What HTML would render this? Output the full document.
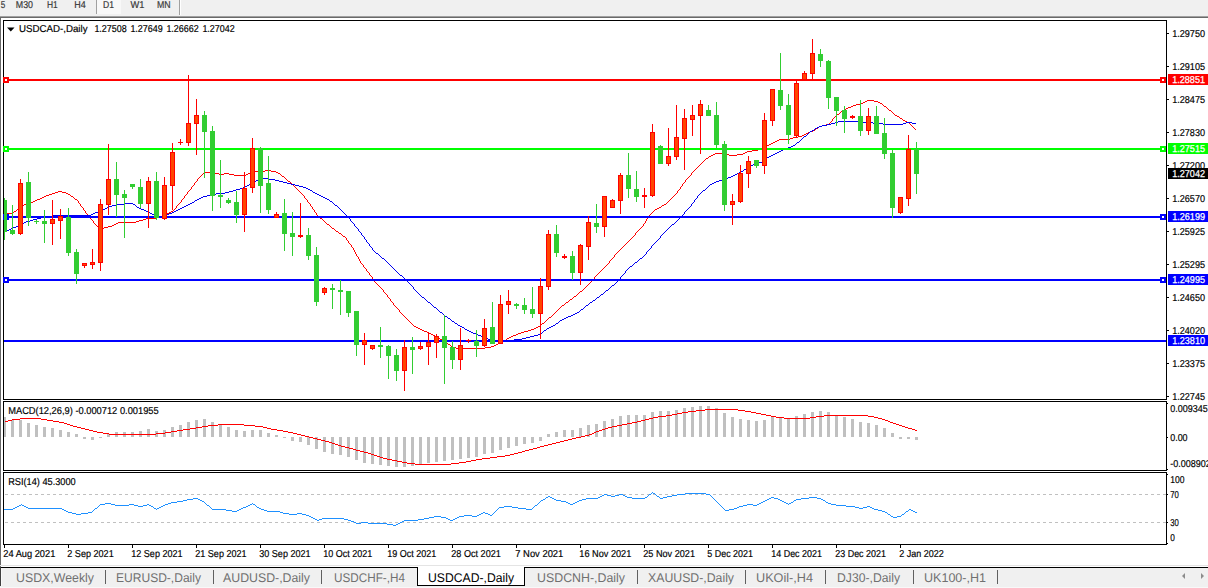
<!DOCTYPE html><html><head><meta charset="utf-8"><title>USDCAD-,Daily</title>
<style>html,body{margin:0;padding:0;background:#fff;}body{width:1208px;height:588px;overflow:hidden;}svg{display:block}text{font-family:"Liberation Sans","DejaVu Sans",sans-serif;text-rendering:geometricPrecision;}.b{stroke:#000;stroke-width:.18px}.w{stroke:#fff;stroke-width:.25px}.t{stroke:#383838;stroke-width:.2px}</style></head><body>
<svg width="1208" height="588" viewBox="0 0 1208 588">
<rect width="1208" height="588" fill="#fff"/>
<g shape-rendering="crispEdges">
<rect x="0" y="0" width="1208" height="16" fill="#f0f0f0"/>
<rect x="0" y="16" width="1208" height="1" fill="#a0a0a0"/>
<rect x="0" y="17" width="1208" height="1" fill="#696969"/>
<rect x="0" y="17" width="1" height="550" fill="#696969"/>
<rect x="97" y="0" width="24" height="14" fill="#f8f8f8"/>
<rect x="96" y="0" width="1" height="14" fill="#a0a0a0"/>
<rect x="179" y="0" width="1" height="15" fill="#a0a0a0"/>
<rect x="180" y="0" width="1" height="15" fill="#ffffff"/>
</g>
<text x="0.7" y="8" class="t" font-size="10" fill="#383838" textLength="4.5" lengthAdjust="spacingAndGlyphs">5</text>
<text x="15.8" y="8" class="t" font-size="10" fill="#383838" textLength="17.2" lengthAdjust="spacingAndGlyphs">M30</text>
<text x="47" y="8" class="t" font-size="10" fill="#383838" textLength="10.8" lengthAdjust="spacingAndGlyphs">H1</text>
<text x="74.2" y="8" class="t" font-size="10" fill="#383838" textLength="11.5" lengthAdjust="spacingAndGlyphs">H4</text>
<text x="103" y="8" class="t" font-size="10" fill="#383838" textLength="11.0" lengthAdjust="spacingAndGlyphs">D1</text>
<text x="130.4" y="8" class="t" font-size="10" fill="#383838" textLength="13.9" lengthAdjust="spacingAndGlyphs">W1</text>
<text x="157" y="8" class="t" font-size="10" fill="#383838" textLength="13.6" lengthAdjust="spacingAndGlyphs">MN</text>
<g shape-rendering="crispEdges" fill="#000">
<rect x="3" y="20" width="1164" height="1"/>
<rect x="3" y="399" width="1164" height="1"/>
<rect x="3" y="20" width="1" height="380"/>
<rect x="1166" y="20" width="1" height="380"/>
<rect x="3" y="401" width="1164" height="1"/>
<rect x="3" y="470" width="1164" height="1"/>
<rect x="3" y="401" width="1" height="70"/>
<rect x="1166" y="401" width="1" height="70"/>
<rect x="3" y="472" width="1164" height="1"/>
<rect x="3" y="544" width="1164" height="1"/>
<rect x="3" y="472" width="1" height="73"/>
<rect x="1166" y="472" width="1" height="73"/>
</g>
<path d="M867 100h7v1h-7zM865 101h2v1h-2zM874 101h4v1h-4zM863 102h2v1h-2zM878 102h2v1h-2zM860 103h3v1h-3zM880 103h2v1h-2zM856 104h4v1h-4zM882 104h1v1h-1zM853 105h3v1h-3zM883 105h1v1h-1zM851 106h2v1h-2zM884 106h2v1h-2zM848 107h3v1h-3zM886 107h1v1h-1zM846 108h2v1h-2zM887 108h1v1h-1zM844 109h2v1h-2zM888 109h1v1h-1zM843 110h1v1h-1zM889 110h2v1h-2zM841 111h2v1h-2zM891 111h1v1h-1zM840 112h1v1h-1zM892 112h1v1h-1zM839 113h1v1h-1zM893 113h1v1h-1zM837 114h2v1h-2zM894 114h1v1h-1zM836 115h1v1h-1zM895 115h2v1h-2zM835 116h1v1h-1zM897 116h2v1h-2zM834 117h1v1h-1zM899 117h1v1h-1zM833 118h1v1h-1zM900 118h2v1h-2zM832 119h1v1h-1zM902 119h1v1h-1zM832 120h1v1h-1zM903 120h2v1h-2zM831 121h1v1h-1zM905 121h2v1h-2zM830 122h1v1h-1zM907 122h2v1h-2zM829 123h1v1h-1zM909 123h1v1h-1zM826 124h3v1h-3zM910 124h1v1h-1zM822 125h4v1h-4zM911 125h1v1h-1zM819 126h3v1h-3zM912 126h1v1h-1zM818 127h1v1h-1zM913 127h1v1h-1zM816 128h2v1h-2zM914 128h1v1h-1zM815 129h1v1h-1zM915 129h1v1h-1zM813 130h2v1h-2zM810 131h3v1h-3zM808 132h2v1h-2zM806 133h2v1h-2zM804 134h2v1h-2zM802 135h2v1h-2zM798 136h4v1h-4zM793 137h5v1h-5zM790 138h3v1h-3zM779 139h11v1h-11zM777 140h2v1h-2zM775 141h2v1h-2zM773 142h2v1h-2zM771 143h2v1h-2zM769 144h2v1h-2zM767 145h2v1h-2zM766 146h1v1h-1zM764 147h2v1h-2zM762 148h2v1h-2zM758 149h4v1h-4zM752 150h6v1h-6zM747 151h5v1h-5zM745 152h2v1h-2zM715 153h9v1h-9zM743 153h2v1h-2zM713 154h2v1h-2zM724 154h5v1h-5zM737 154h6v1h-6zM711 155h2v1h-2zM729 155h8v1h-8zM709 156h2v1h-2zM708 157h1v1h-1zM706 158h2v1h-2zM705 159h1v1h-1zM704 160h1v1h-1zM703 161h1v1h-1zM702 162h1v1h-1zM701 163h1v1h-1zM700 164h1v1h-1zM699 165h1v1h-1zM698 166h1v1h-1zM697 167h1v1h-1zM696 168h1v1h-1zM695 169h1v1h-1zM265 170h6v1h-6zM694 170h1v1h-1zM252 171h13v1h-13zM271 171h5v1h-5zM693 171h1v1h-1zM204 172h11v1h-11zM250 172h2v1h-2zM276 172h2v1h-2zM692 172h1v1h-1zM203 173h1v1h-1zM215 173h4v1h-4zM224 173h5v1h-5zM248 173h2v1h-2zM278 173h2v1h-2zM691 173h1v1h-1zM202 174h1v1h-1zM219 174h5v1h-5zM229 174h5v1h-5zM246 174h2v1h-2zM280 174h1v1h-1zM691 174h1v1h-1zM201 175h1v1h-1zM234 175h12v1h-12zM281 175h1v1h-1zM690 175h1v1h-1zM200 176h1v1h-1zM282 176h2v1h-2zM689 176h1v1h-1zM199 177h1v1h-1zM284 177h1v1h-1zM688 177h1v1h-1zM198 178h1v1h-1zM285 178h1v1h-1zM687 178h1v1h-1zM197 179h1v1h-1zM286 179h1v1h-1zM686 179h1v1h-1zM197 180h1v1h-1zM287 180h1v1h-1zM685 180h1v1h-1zM196 181h1v1h-1zM288 181h2v1h-2zM685 181h1v1h-1zM195 182h1v1h-1zM290 182h1v1h-1zM684 182h1v1h-1zM194 183h1v1h-1zM291 183h1v1h-1zM683 183h1v1h-1zM194 184h1v1h-1zM292 184h1v1h-1zM682 184h1v1h-1zM193 185h1v1h-1zM293 185h1v1h-1zM682 185h1v1h-1zM192 186h1v1h-1zM294 186h1v1h-1zM681 186h1v1h-1zM191 187h1v1h-1zM295 187h1v1h-1zM680 187h1v1h-1zM191 188h1v1h-1zM296 188h1v1h-1zM680 188h1v1h-1zM190 189h1v1h-1zM297 189h1v1h-1zM679 189h1v1h-1zM189 190h1v1h-1zM298 190h1v1h-1zM678 190h1v1h-1zM58 191h4v1h-4zM188 191h1v1h-1zM299 191h1v1h-1zM677 191h1v1h-1zM55 192h3v1h-3zM62 192h4v1h-4zM187 192h1v1h-1zM300 192h1v1h-1zM677 192h1v1h-1zM52 193h3v1h-3zM66 193h2v1h-2zM187 193h1v1h-1zM301 193h1v1h-1zM676 193h1v1h-1zM49 194h3v1h-3zM68 194h2v1h-2zM186 194h1v1h-1zM302 194h1v1h-1zM675 194h1v1h-1zM46 195h3v1h-3zM70 195h1v1h-1zM185 195h1v1h-1zM303 195h1v1h-1zM674 195h1v1h-1zM44 196h2v1h-2zM71 196h2v1h-2zM184 196h1v1h-1zM304 196h1v1h-1zM673 196h1v1h-1zM42 197h2v1h-2zM73 197h1v1h-1zM184 197h1v1h-1zM304 197h1v1h-1zM672 197h1v1h-1zM40 198h2v1h-2zM74 198h1v1h-1zM183 198h1v1h-1zM305 198h1v1h-1zM671 198h1v1h-1zM37 199h3v1h-3zM75 199h2v1h-2zM182 199h1v1h-1zM306 199h1v1h-1zM670 199h1v1h-1zM35 200h2v1h-2zM77 200h1v1h-1zM181 200h1v1h-1zM307 200h1v1h-1zM669 200h1v1h-1zM33 201h2v1h-2zM78 201h1v1h-1zM181 201h1v1h-1zM307 201h1v1h-1zM668 201h1v1h-1zM30 202h3v1h-3zM78 202h1v1h-1zM180 202h1v1h-1zM308 202h1v1h-1zM667 202h1v1h-1zM27 203h3v1h-3zM79 203h1v1h-1zM179 203h1v1h-1zM309 203h1v1h-1zM666 203h1v1h-1zM24 204h3v1h-3zM80 204h1v1h-1zM178 204h1v1h-1zM310 204h1v1h-1zM664 204h2v1h-2zM22 205h2v1h-2zM80 205h1v1h-1zM177 205h1v1h-1zM310 205h1v1h-1zM662 205h2v1h-2zM21 206h1v1h-1zM81 206h1v1h-1zM176 206h1v1h-1zM311 206h1v1h-1zM661 206h1v1h-1zM19 207h2v1h-2zM82 207h1v1h-1zM176 207h1v1h-1zM312 207h1v1h-1zM659 207h2v1h-2zM18 208h1v1h-1zM83 208h1v1h-1zM175 208h1v1h-1zM312 208h1v1h-1zM657 208h2v1h-2zM17 209h1v1h-1zM83 209h1v1h-1zM174 209h1v1h-1zM313 209h1v1h-1zM655 209h2v1h-2zM16 210h1v1h-1zM84 210h1v1h-1zM173 210h1v1h-1zM314 210h1v1h-1zM654 210h1v1h-1zM14 211h2v1h-2zM85 211h1v1h-1zM171 211h2v1h-2zM314 211h1v1h-1zM653 211h1v1h-1zM13 212h1v1h-1zM85 212h1v1h-1zM169 212h2v1h-2zM315 212h1v1h-1zM652 212h1v1h-1zM4 213h9v1h-9zM86 213h1v1h-1zM166 213h3v1h-3zM316 213h1v1h-1zM651 213h1v1h-1zM87 214h1v1h-1zM164 214h2v1h-2zM316 214h1v1h-1zM650 214h1v1h-1zM88 215h1v1h-1zM162 215h2v1h-2zM317 215h1v1h-1zM649 215h1v1h-1zM88 216h1v1h-1zM159 216h3v1h-3zM318 216h1v1h-1zM648 216h1v1h-1zM89 217h1v1h-1zM156 217h3v1h-3zM319 217h1v1h-1zM648 217h1v1h-1zM90 218h1v1h-1zM146 218h10v1h-10zM320 218h2v1h-2zM647 218h1v1h-1zM91 219h1v1h-1zM143 219h3v1h-3zM322 219h1v1h-1zM646 219h1v1h-1zM92 220h1v1h-1zM139 220h4v1h-4zM323 220h1v1h-1zM646 220h1v1h-1zM93 221h1v1h-1zM136 221h3v1h-3zM324 221h1v1h-1zM645 221h1v1h-1zM93 222h1v1h-1zM118 222h18v1h-18zM325 222h1v1h-1zM645 222h1v1h-1zM94 223h1v1h-1zM116 223h2v1h-2zM326 223h1v1h-1zM644 223h1v1h-1zM95 224h1v1h-1zM114 224h2v1h-2zM327 224h2v1h-2zM643 224h1v1h-1zM96 225h1v1h-1zM112 225h2v1h-2zM329 225h1v1h-1zM643 225h1v1h-1zM97 226h1v1h-1zM108 226h4v1h-4zM330 226h1v1h-1zM642 226h1v1h-1zM98 227h1v1h-1zM104 227h4v1h-4zM331 227h1v1h-1zM641 227h1v1h-1zM99 228h1v1h-1zM102 228h2v1h-2zM332 228h2v1h-2zM640 228h1v1h-1zM100 229h2v1h-2zM334 229h1v1h-1zM639 229h1v1h-1zM335 230h1v1h-1zM638 230h1v1h-1zM336 231h2v1h-2zM637 231h1v1h-1zM338 232h1v1h-1zM636 232h1v1h-1zM339 233h2v1h-2zM635 233h1v1h-1zM341 234h1v1h-1zM635 234h1v1h-1zM342 235h1v1h-1zM634 235h1v1h-1zM343 236h2v1h-2zM633 236h1v1h-1zM345 237h1v1h-1zM632 237h1v1h-1zM346 238h1v1h-1zM631 238h1v1h-1zM346 239h1v1h-1zM630 239h1v1h-1zM347 240h1v1h-1zM629 240h1v1h-1zM348 241h1v1h-1zM628 241h1v1h-1zM348 242h1v1h-1zM627 242h1v1h-1zM349 243h1v1h-1zM626 243h1v1h-1zM350 244h1v1h-1zM625 244h1v1h-1zM351 245h1v1h-1zM624 245h1v1h-1zM351 246h1v1h-1zM623 246h1v1h-1zM352 247h1v1h-1zM622 247h1v1h-1zM353 248h1v1h-1zM621 248h1v1h-1zM353 249h1v1h-1zM620 249h1v1h-1zM354 250h1v1h-1zM619 250h1v1h-1zM354 251h1v1h-1zM618 251h1v1h-1zM355 252h1v1h-1zM617 252h1v1h-1zM355 253h1v1h-1zM616 253h1v1h-1zM356 254h1v1h-1zM615 254h1v1h-1zM356 255h1v1h-1zM614 255h1v1h-1zM357 256h1v1h-1zM614 256h1v1h-1zM358 257h1v1h-1zM613 257h1v1h-1zM358 258h1v1h-1zM612 258h1v1h-1zM359 259h1v1h-1zM611 259h1v1h-1zM359 260h1v1h-1zM610 260h1v1h-1zM360 261h1v1h-1zM609 261h1v1h-1zM360 262h1v1h-1zM609 262h1v1h-1zM361 263h1v1h-1zM608 263h1v1h-1zM362 264h1v1h-1zM607 264h1v1h-1zM363 265h1v1h-1zM606 265h1v1h-1zM363 266h1v1h-1zM605 266h1v1h-1zM364 267h1v1h-1zM604 267h1v1h-1zM365 268h1v1h-1zM603 268h1v1h-1zM366 269h1v1h-1zM602 269h1v1h-1zM366 270h1v1h-1zM601 270h1v1h-1zM367 271h1v1h-1zM600 271h1v1h-1zM368 272h1v1h-1zM599 272h1v1h-1zM369 273h1v1h-1zM598 273h1v1h-1zM369 274h1v1h-1zM597 274h1v1h-1zM370 275h1v1h-1zM596 275h1v1h-1zM371 276h1v1h-1zM595 276h1v1h-1zM372 277h1v1h-1zM594 277h1v1h-1zM372 278h1v1h-1zM594 278h1v1h-1zM373 279h1v1h-1zM593 279h1v1h-1zM373 280h1v1h-1zM592 280h1v1h-1zM374 281h1v1h-1zM591 281h1v1h-1zM375 282h1v1h-1zM590 282h1v1h-1zM376 283h1v1h-1zM589 283h1v1h-1zM377 284h1v1h-1zM588 284h1v1h-1zM378 285h1v1h-1zM587 285h1v1h-1zM379 286h1v1h-1zM586 286h1v1h-1zM380 287h1v1h-1zM585 287h1v1h-1zM381 288h1v1h-1zM584 288h1v1h-1zM382 289h1v1h-1zM583 289h1v1h-1zM383 290h1v1h-1zM582 290h1v1h-1zM383 291h1v1h-1zM580 291h2v1h-2zM384 292h1v1h-1zM579 292h1v1h-1zM385 293h1v1h-1zM578 293h1v1h-1zM386 294h1v1h-1zM577 294h1v1h-1zM387 295h1v1h-1zM576 295h1v1h-1zM387 296h1v1h-1zM574 296h2v1h-2zM388 297h1v1h-1zM573 297h1v1h-1zM389 298h1v1h-1zM572 298h1v1h-1zM390 299h1v1h-1zM570 299h2v1h-2zM390 300h1v1h-1zM569 300h1v1h-1zM391 301h1v1h-1zM568 301h1v1h-1zM392 302h1v1h-1zM566 302h2v1h-2zM393 303h1v1h-1zM565 303h1v1h-1zM393 304h1v1h-1zM564 304h1v1h-1zM394 305h1v1h-1zM562 305h2v1h-2zM395 306h1v1h-1zM561 306h1v1h-1zM396 307h1v1h-1zM560 307h1v1h-1zM397 308h1v1h-1zM559 308h1v1h-1zM398 309h1v1h-1zM558 309h1v1h-1zM399 310h1v1h-1zM557 310h1v1h-1zM399 311h1v1h-1zM556 311h1v1h-1zM400 312h1v1h-1zM555 312h1v1h-1zM401 313h1v1h-1zM554 313h1v1h-1zM402 314h1v1h-1zM553 314h1v1h-1zM403 315h1v1h-1zM552 315h1v1h-1zM404 316h1v1h-1zM551 316h1v1h-1zM405 317h1v1h-1zM549 317h2v1h-2zM406 318h1v1h-1zM548 318h1v1h-1zM407 319h1v1h-1zM547 319h1v1h-1zM408 320h1v1h-1zM546 320h1v1h-1zM409 321h1v1h-1zM545 321h1v1h-1zM410 322h1v1h-1zM544 322h1v1h-1zM411 323h1v1h-1zM542 323h2v1h-2zM412 324h1v1h-1zM541 324h1v1h-1zM413 325h1v1h-1zM540 325h1v1h-1zM414 326h2v1h-2zM538 326h2v1h-2zM416 327h2v1h-2zM536 327h2v1h-2zM418 328h2v1h-2zM534 328h2v1h-2zM420 329h2v1h-2zM531 329h3v1h-3zM422 330h2v1h-2zM528 330h3v1h-3zM424 331h3v1h-3zM524 331h4v1h-4zM427 332h2v1h-2zM521 332h3v1h-3zM429 333h2v1h-2zM518 333h3v1h-3zM431 334h2v1h-2zM516 334h2v1h-2zM433 335h2v1h-2zM513 335h3v1h-3zM435 336h2v1h-2zM511 336h2v1h-2zM437 337h2v1h-2zM509 337h2v1h-2zM439 338h1v1h-1zM507 338h2v1h-2zM440 339h2v1h-2zM506 339h1v1h-1zM442 340h2v1h-2zM504 340h2v1h-2zM444 341h1v1h-1zM502 341h2v1h-2zM445 342h2v1h-2zM500 342h2v1h-2zM447 343h1v1h-1zM498 343h2v1h-2zM448 344h2v1h-2zM496 344h2v1h-2zM450 345h1v1h-1zM494 345h2v1h-2zM451 346h2v1h-2zM491 346h3v1h-3zM453 347h3v1h-3zM485 347h6v1h-6zM456 348h29v1h-29z" fill="#ff0000" shape-rendering="crispEdges"/>
<path d="M838 121h23v1h-23zM835 122h3v1h-3zM861 122h12v1h-12zM906 122h6v1h-6zM831 123h4v1h-4zM873 123h10v1h-10zM903 123h3v1h-3zM912 123h4v1h-4zM827 124h4v1h-4zM883 124h20v1h-20zM822 125h5v1h-5zM819 126h3v1h-3zM817 127h2v1h-2zM815 128h2v1h-2zM814 129h1v1h-1zM812 130h2v1h-2zM810 131h2v1h-2zM809 132h1v1h-1zM808 133h1v1h-1zM807 134h1v1h-1zM806 135h1v1h-1zM804 136h2v1h-2zM803 137h1v1h-1zM802 138h1v1h-1zM801 139h1v1h-1zM800 140h1v1h-1zM799 141h1v1h-1zM797 142h2v1h-2zM796 143h1v1h-1zM795 144h1v1h-1zM793 145h2v1h-2zM791 146h2v1h-2zM788 147h3v1h-3zM786 148h2v1h-2zM783 149h3v1h-3zM781 150h2v1h-2zM779 151h2v1h-2zM777 152h2v1h-2zM775 153h2v1h-2zM773 154h2v1h-2zM771 155h2v1h-2zM769 156h2v1h-2zM767 157h2v1h-2zM766 158h1v1h-1zM765 159h1v1h-1zM764 160h1v1h-1zM762 161h2v1h-2zM759 162h3v1h-3zM755 163h4v1h-4zM753 164h2v1h-2zM751 165h2v1h-2zM749 166h2v1h-2zM748 167h1v1h-1zM746 168h2v1h-2zM744 169h2v1h-2zM743 170h1v1h-1zM741 171h2v1h-2zM739 172h2v1h-2zM737 173h2v1h-2zM735 174h2v1h-2zM733 175h2v1h-2zM731 176h2v1h-2zM728 177h3v1h-3zM261 178h7v1h-7zM726 178h2v1h-2zM259 179h2v1h-2zM268 179h7v1h-7zM723 179h3v1h-3zM256 180h3v1h-3zM275 180h4v1h-4zM719 180h4v1h-4zM254 181h2v1h-2zM279 181h4v1h-4zM716 181h3v1h-3zM252 182h2v1h-2zM283 182h4v1h-4zM714 182h2v1h-2zM250 183h2v1h-2zM287 183h4v1h-4zM712 183h2v1h-2zM249 184h1v1h-1zM291 184h4v1h-4zM710 184h2v1h-2zM247 185h2v1h-2zM295 185h4v1h-4zM709 185h1v1h-1zM245 186h2v1h-2zM299 186h4v1h-4zM708 186h1v1h-1zM243 187h2v1h-2zM303 187h3v1h-3zM707 187h1v1h-1zM240 188h3v1h-3zM306 188h2v1h-2zM706 188h1v1h-1zM236 189h4v1h-4zM308 189h2v1h-2zM705 189h1v1h-1zM233 190h3v1h-3zM310 190h2v1h-2zM703 190h2v1h-2zM229 191h4v1h-4zM312 191h1v1h-1zM702 191h1v1h-1zM225 192h4v1h-4zM313 192h2v1h-2zM701 192h1v1h-1zM216 193h9v1h-9zM315 193h2v1h-2zM700 193h1v1h-1zM212 194h4v1h-4zM317 194h2v1h-2zM699 194h1v1h-1zM207 195h5v1h-5zM319 195h2v1h-2zM698 195h1v1h-1zM203 196h4v1h-4zM321 196h2v1h-2zM697 196h1v1h-1zM201 197h2v1h-2zM323 197h2v1h-2zM697 197h1v1h-1zM199 198h2v1h-2zM325 198h2v1h-2zM696 198h1v1h-1zM197 199h2v1h-2zM327 199h2v1h-2zM695 199h1v1h-1zM195 200h2v1h-2zM329 200h1v1h-1zM694 200h1v1h-1zM194 201h1v1h-1zM330 201h2v1h-2zM694 201h1v1h-1zM192 202h2v1h-2zM332 202h1v1h-1zM693 202h1v1h-1zM125 203h8v1h-8zM190 203h2v1h-2zM333 203h1v1h-1zM692 203h1v1h-1zM117 204h8v1h-8zM133 204h2v1h-2zM188 204h2v1h-2zM334 204h1v1h-1zM691 204h1v1h-1zM112 205h5v1h-5zM135 205h1v1h-1zM186 205h2v1h-2zM335 205h2v1h-2zM691 205h1v1h-1zM109 206h3v1h-3zM136 206h1v1h-1zM184 206h2v1h-2zM337 206h1v1h-1zM690 206h1v1h-1zM107 207h2v1h-2zM137 207h2v1h-2zM182 207h2v1h-2zM338 207h1v1h-1zM689 207h1v1h-1zM105 208h2v1h-2zM139 208h2v1h-2zM180 208h2v1h-2zM339 208h1v1h-1zM688 208h1v1h-1zM102 209h3v1h-3zM141 209h3v1h-3zM178 209h2v1h-2zM340 209h1v1h-1zM687 209h1v1h-1zM100 210h2v1h-2zM144 210h2v1h-2zM176 210h2v1h-2zM341 210h1v1h-1zM686 210h1v1h-1zM98 211h2v1h-2zM146 211h2v1h-2zM174 211h2v1h-2zM342 211h1v1h-1zM685 211h1v1h-1zM95 212h3v1h-3zM148 212h2v1h-2zM172 212h2v1h-2zM343 212h1v1h-1zM684 212h1v1h-1zM93 213h2v1h-2zM150 213h2v1h-2zM169 213h3v1h-3zM344 213h1v1h-1zM684 213h1v1h-1zM91 214h2v1h-2zM152 214h2v1h-2zM167 214h2v1h-2zM345 214h1v1h-1zM683 214h1v1h-1zM53 215h38v1h-38zM154 215h3v1h-3zM165 215h2v1h-2zM346 215h1v1h-1zM682 215h1v1h-1zM46 216h7v1h-7zM157 216h8v1h-8zM347 216h1v1h-1zM681 216h1v1h-1zM41 217h5v1h-5zM348 217h1v1h-1zM680 217h1v1h-1zM37 218h4v1h-4zM349 218h1v1h-1zM679 218h1v1h-1zM33 219h4v1h-4zM350 219h1v1h-1zM678 219h1v1h-1zM30 220h3v1h-3zM350 220h1v1h-1zM677 220h1v1h-1zM26 221h4v1h-4zM351 221h1v1h-1zM676 221h1v1h-1zM24 222h2v1h-2zM352 222h1v1h-1zM675 222h1v1h-1zM22 223h2v1h-2zM353 223h1v1h-1zM674 223h1v1h-1zM20 224h2v1h-2zM354 224h1v1h-1zM672 224h2v1h-2zM18 225h2v1h-2zM354 225h1v1h-1zM671 225h1v1h-1zM16 226h2v1h-2zM355 226h1v1h-1zM670 226h1v1h-1zM13 227h3v1h-3zM356 227h1v1h-1zM669 227h1v1h-1zM11 228h2v1h-2zM357 228h1v1h-1zM668 228h1v1h-1zM9 229h2v1h-2zM358 229h1v1h-1zM667 229h1v1h-1zM7 230h2v1h-2zM358 230h1v1h-1zM666 230h1v1h-1zM5 231h2v1h-2zM359 231h1v1h-1zM665 231h1v1h-1zM4 232h1v1h-1zM360 232h1v1h-1zM664 232h1v1h-1zM361 233h1v1h-1zM663 233h1v1h-1zM361 234h1v1h-1zM662 234h1v1h-1zM362 235h1v1h-1zM661 235h1v1h-1zM363 236h1v1h-1zM660 236h1v1h-1zM364 237h1v1h-1zM660 237h1v1h-1zM364 238h1v1h-1zM659 238h1v1h-1zM365 239h1v1h-1zM658 239h1v1h-1zM366 240h1v1h-1zM657 240h1v1h-1zM366 241h1v1h-1zM656 241h1v1h-1zM367 242h1v1h-1zM655 242h1v1h-1zM368 243h1v1h-1zM654 243h1v1h-1zM369 244h1v1h-1zM653 244h1v1h-1zM369 245h1v1h-1zM652 245h1v1h-1zM370 246h1v1h-1zM651 246h1v1h-1zM371 247h1v1h-1zM651 247h1v1h-1zM372 248h1v1h-1zM650 248h1v1h-1zM372 249h1v1h-1zM649 249h1v1h-1zM373 250h1v1h-1zM648 250h1v1h-1zM374 251h1v1h-1zM647 251h1v1h-1zM375 252h1v1h-1zM646 252h1v1h-1zM376 253h2v1h-2zM646 253h1v1h-1zM378 254h1v1h-1zM645 254h1v1h-1zM379 255h1v1h-1zM644 255h1v1h-1zM380 256h1v1h-1zM643 256h1v1h-1zM381 257h1v1h-1zM642 257h1v1h-1zM382 258h2v1h-2zM640 258h2v1h-2zM384 259h1v1h-1zM639 259h1v1h-1zM385 260h1v1h-1zM638 260h1v1h-1zM386 261h1v1h-1zM637 261h1v1h-1zM387 262h1v1h-1zM635 262h2v1h-2zM388 263h1v1h-1zM634 263h1v1h-1zM389 264h1v1h-1zM633 264h1v1h-1zM390 265h1v1h-1zM632 265h1v1h-1zM391 266h1v1h-1zM630 266h2v1h-2zM392 267h1v1h-1zM629 267h1v1h-1zM393 268h1v1h-1zM628 268h1v1h-1zM394 269h1v1h-1zM627 269h1v1h-1zM395 270h1v1h-1zM626 270h1v1h-1zM396 271h1v1h-1zM625 271h1v1h-1zM397 272h1v1h-1zM625 272h1v1h-1zM398 273h1v1h-1zM624 273h1v1h-1zM399 274h1v1h-1zM623 274h1v1h-1zM400 275h2v1h-2zM622 275h1v1h-1zM402 276h1v1h-1zM621 276h1v1h-1zM403 277h1v1h-1zM620 277h1v1h-1zM404 278h1v1h-1zM620 278h1v1h-1zM405 279h1v1h-1zM619 279h1v1h-1zM406 280h1v1h-1zM618 280h1v1h-1zM407 281h1v1h-1zM617 281h1v1h-1zM408 282h1v1h-1zM616 282h1v1h-1zM409 283h1v1h-1zM615 283h1v1h-1zM410 284h1v1h-1zM614 284h1v1h-1zM411 285h1v1h-1zM612 285h2v1h-2zM412 286h1v1h-1zM611 286h1v1h-1zM413 287h1v1h-1zM610 287h1v1h-1zM413 288h1v1h-1zM609 288h1v1h-1zM414 289h1v1h-1zM608 289h1v1h-1zM415 290h1v1h-1zM606 290h2v1h-2zM416 291h1v1h-1zM605 291h1v1h-1zM417 292h1v1h-1zM604 292h1v1h-1zM418 293h1v1h-1zM603 293h1v1h-1zM419 294h1v1h-1zM601 294h2v1h-2zM420 295h1v1h-1zM600 295h1v1h-1zM421 296h1v1h-1zM599 296h1v1h-1zM422 297h2v1h-2zM597 297h2v1h-2zM424 298h1v1h-1zM596 298h1v1h-1zM425 299h1v1h-1zM595 299h1v1h-1zM426 300h1v1h-1zM593 300h2v1h-2zM427 301h1v1h-1zM592 301h1v1h-1zM428 302h2v1h-2zM590 302h2v1h-2zM430 303h1v1h-1zM589 303h1v1h-1zM431 304h1v1h-1zM588 304h1v1h-1zM432 305h1v1h-1zM586 305h2v1h-2zM433 306h1v1h-1zM585 306h1v1h-1zM434 307h2v1h-2zM584 307h1v1h-1zM436 308h1v1h-1zM583 308h1v1h-1zM437 309h1v1h-1zM581 309h2v1h-2zM438 310h1v1h-1zM580 310h1v1h-1zM439 311h1v1h-1zM579 311h1v1h-1zM440 312h2v1h-2zM577 312h2v1h-2zM442 313h1v1h-1zM575 313h2v1h-2zM443 314h1v1h-1zM573 314h2v1h-2zM444 315h1v1h-1zM571 315h2v1h-2zM445 316h2v1h-2zM568 316h3v1h-3zM447 317h1v1h-1zM566 317h2v1h-2zM448 318h2v1h-2zM564 318h2v1h-2zM450 319h1v1h-1zM562 319h2v1h-2zM451 320h1v1h-1zM560 320h2v1h-2zM452 321h2v1h-2zM559 321h1v1h-1zM454 322h1v1h-1zM558 322h1v1h-1zM455 323h2v1h-2zM556 323h2v1h-2zM457 324h1v1h-1zM555 324h1v1h-1zM458 325h2v1h-2zM553 325h2v1h-2zM460 326h2v1h-2zM551 326h2v1h-2zM462 327h2v1h-2zM549 327h2v1h-2zM464 328h1v1h-1zM547 328h2v1h-2zM465 329h2v1h-2zM546 329h1v1h-1zM467 330h2v1h-2zM544 330h2v1h-2zM469 331h2v1h-2zM543 331h1v1h-1zM471 332h2v1h-2zM542 332h1v1h-1zM473 333h3v1h-3zM540 333h2v1h-2zM476 334h2v1h-2zM538 334h2v1h-2zM478 335h3v1h-3zM534 335h4v1h-4zM481 336h2v1h-2zM530 336h4v1h-4zM483 337h3v1h-3zM526 337h4v1h-4zM486 338h2v1h-2zM522 338h4v1h-4zM488 339h3v1h-3zM514 339h8v1h-8zM491 340h4v1h-4zM502 340h12v1h-12zM495 341h7v1h-7z" fill="#0000f0" shape-rendering="crispEdges"/>
<g shape-rendering="crispEdges">
<rect x="4" y="79" width="1162" height="2" fill="#ff0000"/>
<rect x="3" y="77" width="6" height="6" fill="#ff0000"/>
<rect x="5" y="79" width="2" height="2" fill="#fff"/>
<rect x="1160" y="77" width="6" height="6" fill="#ff0000"/>
<rect x="1162" y="79" width="2" height="2" fill="#fff"/>
<rect x="4" y="148" width="1162" height="2" fill="#00ff00"/>
<rect x="3" y="146" width="6" height="6" fill="#00ff00"/>
<rect x="5" y="148" width="2" height="2" fill="#fff"/>
<rect x="1160" y="146" width="6" height="6" fill="#00ff00"/>
<rect x="1162" y="148" width="2" height="2" fill="#fff"/>
<rect x="4" y="216" width="1162" height="2" fill="#0000ff"/>
<rect x="3" y="214" width="6" height="6" fill="#0000ff"/>
<rect x="5" y="216" width="2" height="2" fill="#fff"/>
<rect x="1160" y="214" width="6" height="6" fill="#0000ff"/>
<rect x="1162" y="216" width="2" height="2" fill="#fff"/>
<rect x="4" y="279" width="1162" height="2" fill="#0000ff"/>
<rect x="3" y="277" width="6" height="6" fill="#0000ff"/>
<rect x="5" y="279" width="2" height="2" fill="#fff"/>
<rect x="1160" y="277" width="6" height="6" fill="#0000ff"/>
<rect x="1162" y="279" width="2" height="2" fill="#fff"/>
<rect x="4" y="340" width="1162" height="2" fill="#0000ff"/>
</g>
<g shape-rendering="crispEdges">
<rect x="4" y="198" width="1" height="42" fill="#32cd32"/>
<rect x="4" y="200" width="3" height="32" fill="#32cd32"/>
<rect x="12" y="205" width="1" height="30" fill="#32cd32"/>
<rect x="10" y="230" width="5" height="4" fill="#32cd32"/>
<rect x="20" y="179" width="1" height="56" fill="#ff0000"/>
<rect x="18" y="183" width="5" height="51" fill="#ff0000"/>
<rect x="19" y="184" width="3" height="49" fill="#ff4500"/>
<rect x="28" y="172" width="1" height="54" fill="#32cd32"/>
<rect x="26" y="182" width="5" height="36" fill="#32cd32"/>
<rect x="36" y="220" width="1" height="4" fill="#32cd32"/>
<rect x="34" y="221" width="5" height="1" fill="#32cd32"/>
<rect x="44" y="210" width="1" height="33" fill="#32cd32"/>
<rect x="42" y="221" width="5" height="3" fill="#32cd32"/>
<rect x="52" y="200" width="1" height="45" fill="#ff0000"/>
<rect x="50" y="219" width="5" height="5" fill="#ff0000"/>
<rect x="51" y="220" width="3" height="3" fill="#ff4500"/>
<rect x="60" y="209" width="1" height="30" fill="#ff0000"/>
<rect x="58" y="216" width="5" height="5" fill="#ff0000"/>
<rect x="59" y="217" width="3" height="3" fill="#ff4500"/>
<rect x="68" y="208" width="1" height="48" fill="#32cd32"/>
<rect x="66" y="217" width="5" height="36" fill="#32cd32"/>
<rect x="76" y="249" width="1" height="35" fill="#32cd32"/>
<rect x="74" y="252" width="5" height="22" fill="#32cd32"/>
<rect x="84" y="263" width="1" height="5" fill="#ff0000"/>
<rect x="82" y="263" width="5" height="3" fill="#ff0000"/>
<rect x="83" y="264" width="3" height="1" fill="#ff4500"/>
<rect x="92" y="249" width="1" height="20" fill="#ff0000"/>
<rect x="90" y="262" width="5" height="3" fill="#ff0000"/>
<rect x="91" y="263" width="3" height="1" fill="#ff4500"/>
<rect x="100" y="199" width="1" height="72" fill="#ff0000"/>
<rect x="98" y="204" width="5" height="59" fill="#ff0000"/>
<rect x="99" y="205" width="3" height="57" fill="#ff4500"/>
<rect x="108" y="144" width="1" height="71" fill="#ff0000"/>
<rect x="106" y="179" width="5" height="26" fill="#ff0000"/>
<rect x="107" y="180" width="3" height="24" fill="#ff4500"/>
<rect x="116" y="162" width="1" height="55" fill="#32cd32"/>
<rect x="114" y="179" width="5" height="16" fill="#32cd32"/>
<rect x="124" y="190" width="1" height="48" fill="#32cd32"/>
<rect x="122" y="194" width="5" height="4" fill="#32cd32"/>
<rect x="132" y="184" width="1" height="5" fill="#32cd32"/>
<rect x="130" y="184" width="5" height="3" fill="#32cd32"/>
<rect x="140" y="179" width="1" height="29" fill="#32cd32"/>
<rect x="138" y="187" width="5" height="17" fill="#32cd32"/>
<rect x="148" y="177" width="1" height="51" fill="#ff0000"/>
<rect x="146" y="181" width="5" height="23" fill="#ff0000"/>
<rect x="147" y="182" width="3" height="21" fill="#ff4500"/>
<rect x="156" y="172" width="1" height="48" fill="#32cd32"/>
<rect x="154" y="181" width="5" height="37" fill="#32cd32"/>
<rect x="164" y="177" width="1" height="43" fill="#ff0000"/>
<rect x="162" y="185" width="5" height="34" fill="#ff0000"/>
<rect x="163" y="186" width="3" height="32" fill="#ff4500"/>
<rect x="172" y="143" width="1" height="67" fill="#ff0000"/>
<rect x="170" y="152" width="5" height="34" fill="#ff0000"/>
<rect x="171" y="153" width="3" height="32" fill="#ff4500"/>
<rect x="180" y="139" width="1" height="6" fill="#ff0000"/>
<rect x="178" y="142" width="5" height="1" fill="#ff0000"/>
<rect x="188" y="75" width="1" height="71" fill="#ff0000"/>
<rect x="186" y="123" width="5" height="20" fill="#ff0000"/>
<rect x="187" y="124" width="3" height="18" fill="#ff4500"/>
<rect x="196" y="99" width="1" height="56" fill="#ff0000"/>
<rect x="194" y="115" width="5" height="9" fill="#ff0000"/>
<rect x="195" y="116" width="3" height="7" fill="#ff4500"/>
<rect x="204" y="111" width="1" height="67" fill="#32cd32"/>
<rect x="202" y="115" width="5" height="17" fill="#32cd32"/>
<rect x="212" y="126" width="1" height="85" fill="#32cd32"/>
<rect x="210" y="131" width="5" height="65" fill="#32cd32"/>
<rect x="220" y="160" width="1" height="48" fill="#32cd32"/>
<rect x="218" y="195" width="5" height="2" fill="#32cd32"/>
<rect x="228" y="198" width="1" height="6" fill="#32cd32"/>
<rect x="226" y="200" width="5" height="3" fill="#32cd32"/>
<rect x="236" y="191" width="1" height="32" fill="#32cd32"/>
<rect x="234" y="202" width="5" height="13" fill="#32cd32"/>
<rect x="244" y="172" width="1" height="60" fill="#ff0000"/>
<rect x="242" y="188" width="5" height="27" fill="#ff0000"/>
<rect x="243" y="189" width="3" height="25" fill="#ff4500"/>
<rect x="252" y="138" width="1" height="55" fill="#ff0000"/>
<rect x="250" y="148" width="5" height="40" fill="#ff0000"/>
<rect x="251" y="149" width="3" height="38" fill="#ff4500"/>
<rect x="260" y="147" width="1" height="66" fill="#32cd32"/>
<rect x="258" y="148" width="5" height="38" fill="#32cd32"/>
<rect x="268" y="156" width="1" height="58" fill="#32cd32"/>
<rect x="266" y="183" width="5" height="27" fill="#32cd32"/>
<rect x="276" y="212" width="1" height="6" fill="#ff0000"/>
<rect x="274" y="214" width="5" height="4" fill="#ff0000"/>
<rect x="275" y="215" width="3" height="2" fill="#ff4500"/>
<rect x="284" y="199" width="1" height="52" fill="#32cd32"/>
<rect x="282" y="213" width="5" height="21" fill="#32cd32"/>
<rect x="292" y="212" width="1" height="44" fill="#32cd32"/>
<rect x="290" y="233" width="5" height="4" fill="#32cd32"/>
<rect x="300" y="203" width="1" height="35" fill="#ff0000"/>
<rect x="298" y="235" width="5" height="2" fill="#ff0000"/>
<rect x="308" y="228" width="1" height="32" fill="#32cd32"/>
<rect x="306" y="235" width="5" height="21" fill="#32cd32"/>
<rect x="316" y="247" width="1" height="59" fill="#32cd32"/>
<rect x="314" y="255" width="5" height="47" fill="#32cd32"/>
<rect x="324" y="287" width="1" height="8" fill="#ff0000"/>
<rect x="322" y="288" width="5" height="5" fill="#ff0000"/>
<rect x="323" y="289" width="3" height="3" fill="#ff4500"/>
<rect x="332" y="284" width="1" height="25" fill="#32cd32"/>
<rect x="330" y="288" width="5" height="2" fill="#32cd32"/>
<rect x="340" y="280" width="1" height="35" fill="#32cd32"/>
<rect x="338" y="290" width="5" height="2" fill="#32cd32"/>
<rect x="348" y="291" width="1" height="26" fill="#32cd32"/>
<rect x="346" y="291" width="5" height="22" fill="#32cd32"/>
<rect x="356" y="311" width="1" height="45" fill="#32cd32"/>
<rect x="354" y="311" width="5" height="34" fill="#32cd32"/>
<rect x="364" y="333" width="1" height="32" fill="#ff0000"/>
<rect x="362" y="340" width="5" height="5" fill="#ff0000"/>
<rect x="363" y="341" width="3" height="3" fill="#ff4500"/>
<rect x="372" y="345" width="1" height="5" fill="#ff0000"/>
<rect x="370" y="345" width="5" height="4" fill="#ff0000"/>
<rect x="371" y="346" width="3" height="2" fill="#ff4500"/>
<rect x="380" y="327" width="1" height="31" fill="#32cd32"/>
<rect x="378" y="345" width="5" height="2" fill="#32cd32"/>
<rect x="388" y="345" width="1" height="34" fill="#32cd32"/>
<rect x="386" y="346" width="5" height="10" fill="#32cd32"/>
<rect x="396" y="349" width="1" height="32" fill="#32cd32"/>
<rect x="394" y="355" width="5" height="16" fill="#32cd32"/>
<rect x="404" y="340" width="1" height="51" fill="#ff0000"/>
<rect x="402" y="347" width="5" height="24" fill="#ff0000"/>
<rect x="403" y="348" width="3" height="22" fill="#ff4500"/>
<rect x="412" y="337" width="1" height="37" fill="#32cd32"/>
<rect x="410" y="347" width="5" height="3" fill="#32cd32"/>
<rect x="420" y="342" width="1" height="8" fill="#ff0000"/>
<rect x="418" y="346" width="5" height="3" fill="#ff0000"/>
<rect x="419" y="347" width="3" height="1" fill="#ff4500"/>
<rect x="428" y="332" width="1" height="33" fill="#ff0000"/>
<rect x="426" y="342" width="5" height="5" fill="#ff0000"/>
<rect x="427" y="343" width="3" height="3" fill="#ff4500"/>
<rect x="436" y="334" width="1" height="24" fill="#ff0000"/>
<rect x="434" y="336" width="5" height="7" fill="#ff0000"/>
<rect x="435" y="337" width="3" height="5" fill="#ff4500"/>
<rect x="444" y="315" width="1" height="69" fill="#32cd32"/>
<rect x="442" y="336" width="5" height="12" fill="#32cd32"/>
<rect x="452" y="341" width="1" height="28" fill="#32cd32"/>
<rect x="450" y="347" width="5" height="13" fill="#32cd32"/>
<rect x="460" y="328" width="1" height="42" fill="#ff0000"/>
<rect x="458" y="345" width="5" height="15" fill="#ff0000"/>
<rect x="459" y="346" width="3" height="13" fill="#ff4500"/>
<rect x="468" y="339" width="1" height="4" fill="#ff0000"/>
<rect x="466" y="340" width="5" height="1" fill="#ff0000"/>
<rect x="476" y="330" width="1" height="27" fill="#32cd32"/>
<rect x="474" y="341" width="5" height="5" fill="#32cd32"/>
<rect x="484" y="319" width="1" height="28" fill="#ff0000"/>
<rect x="482" y="328" width="5" height="18" fill="#ff0000"/>
<rect x="483" y="329" width="3" height="16" fill="#ff4500"/>
<rect x="492" y="302" width="1" height="42" fill="#32cd32"/>
<rect x="490" y="327" width="5" height="17" fill="#32cd32"/>
<rect x="500" y="295" width="1" height="49" fill="#ff0000"/>
<rect x="498" y="304" width="5" height="40" fill="#ff0000"/>
<rect x="499" y="305" width="3" height="38" fill="#ff4500"/>
<rect x="508" y="290" width="1" height="24" fill="#ff0000"/>
<rect x="506" y="301" width="5" height="4" fill="#ff0000"/>
<rect x="507" y="302" width="3" height="2" fill="#ff4500"/>
<rect x="516" y="303" width="1" height="6" fill="#32cd32"/>
<rect x="514" y="304" width="5" height="2" fill="#32cd32"/>
<rect x="524" y="298" width="1" height="16" fill="#32cd32"/>
<rect x="522" y="305" width="5" height="5" fill="#32cd32"/>
<rect x="532" y="287" width="1" height="31" fill="#32cd32"/>
<rect x="530" y="309" width="5" height="5" fill="#32cd32"/>
<rect x="540" y="278" width="1" height="61" fill="#ff0000"/>
<rect x="538" y="286" width="5" height="28" fill="#ff0000"/>
<rect x="539" y="287" width="3" height="26" fill="#ff4500"/>
<rect x="548" y="230" width="1" height="60" fill="#ff0000"/>
<rect x="546" y="234" width="5" height="53" fill="#ff0000"/>
<rect x="547" y="235" width="3" height="51" fill="#ff4500"/>
<rect x="556" y="225" width="1" height="32" fill="#32cd32"/>
<rect x="554" y="234" width="5" height="19" fill="#32cd32"/>
<rect x="564" y="254" width="1" height="5" fill="#ff0000"/>
<rect x="562" y="256" width="5" height="2" fill="#ff0000"/>
<rect x="572" y="251" width="1" height="29" fill="#32cd32"/>
<rect x="570" y="256" width="5" height="17" fill="#32cd32"/>
<rect x="580" y="244" width="1" height="41" fill="#ff0000"/>
<rect x="578" y="245" width="5" height="28" fill="#ff0000"/>
<rect x="579" y="246" width="3" height="26" fill="#ff4500"/>
<rect x="588" y="216" width="1" height="44" fill="#ff0000"/>
<rect x="586" y="222" width="5" height="25" fill="#ff0000"/>
<rect x="587" y="223" width="3" height="23" fill="#ff4500"/>
<rect x="596" y="204" width="1" height="29" fill="#32cd32"/>
<rect x="594" y="223" width="5" height="4" fill="#32cd32"/>
<rect x="604" y="196" width="1" height="41" fill="#ff0000"/>
<rect x="602" y="196" width="5" height="31" fill="#ff0000"/>
<rect x="603" y="197" width="3" height="29" fill="#ff4500"/>
<rect x="612" y="199" width="1" height="9" fill="#ff0000"/>
<rect x="610" y="200" width="5" height="8" fill="#ff0000"/>
<rect x="611" y="201" width="3" height="6" fill="#ff4500"/>
<rect x="620" y="173" width="1" height="41" fill="#ff0000"/>
<rect x="618" y="175" width="5" height="26" fill="#ff0000"/>
<rect x="619" y="176" width="3" height="24" fill="#ff4500"/>
<rect x="628" y="153" width="1" height="45" fill="#32cd32"/>
<rect x="626" y="175" width="5" height="14" fill="#32cd32"/>
<rect x="636" y="171" width="1" height="31" fill="#32cd32"/>
<rect x="634" y="189" width="5" height="8" fill="#32cd32"/>
<rect x="644" y="188" width="1" height="20" fill="#ff0000"/>
<rect x="642" y="195" width="5" height="2" fill="#ff0000"/>
<rect x="652" y="124" width="1" height="73" fill="#ff0000"/>
<rect x="650" y="132" width="5" height="64" fill="#ff0000"/>
<rect x="651" y="133" width="3" height="62" fill="#ff4500"/>
<rect x="660" y="145" width="1" height="19" fill="#32cd32"/>
<rect x="658" y="146" width="5" height="18" fill="#32cd32"/>
<rect x="668" y="128" width="1" height="38" fill="#ff0000"/>
<rect x="666" y="156" width="5" height="8" fill="#ff0000"/>
<rect x="667" y="157" width="3" height="6" fill="#ff4500"/>
<rect x="676" y="105" width="1" height="55" fill="#ff0000"/>
<rect x="674" y="137" width="5" height="20" fill="#ff0000"/>
<rect x="675" y="138" width="3" height="18" fill="#ff4500"/>
<rect x="684" y="109" width="1" height="61" fill="#ff0000"/>
<rect x="682" y="118" width="5" height="21" fill="#ff0000"/>
<rect x="683" y="119" width="3" height="19" fill="#ff4500"/>
<rect x="692" y="105" width="1" height="31" fill="#ff0000"/>
<rect x="690" y="115" width="5" height="5" fill="#ff0000"/>
<rect x="691" y="116" width="3" height="3" fill="#ff4500"/>
<rect x="700" y="100" width="1" height="54" fill="#ff0000"/>
<rect x="698" y="104" width="5" height="12" fill="#ff0000"/>
<rect x="699" y="105" width="3" height="10" fill="#ff4500"/>
<rect x="708" y="105" width="1" height="11" fill="#32cd32"/>
<rect x="706" y="110" width="5" height="6" fill="#32cd32"/>
<rect x="716" y="102" width="1" height="46" fill="#32cd32"/>
<rect x="714" y="115" width="5" height="30" fill="#32cd32"/>
<rect x="724" y="141" width="1" height="70" fill="#32cd32"/>
<rect x="722" y="144" width="5" height="61" fill="#32cd32"/>
<rect x="732" y="194" width="1" height="31" fill="#ff0000"/>
<rect x="730" y="201" width="5" height="4" fill="#ff0000"/>
<rect x="731" y="202" width="3" height="2" fill="#ff4500"/>
<rect x="740" y="165" width="1" height="38" fill="#ff0000"/>
<rect x="738" y="173" width="5" height="29" fill="#ff0000"/>
<rect x="739" y="174" width="3" height="27" fill="#ff4500"/>
<rect x="748" y="156" width="1" height="32" fill="#ff0000"/>
<rect x="746" y="161" width="5" height="13" fill="#ff0000"/>
<rect x="747" y="162" width="3" height="11" fill="#ff4500"/>
<rect x="756" y="160" width="1" height="8" fill="#32cd32"/>
<rect x="754" y="160" width="5" height="6" fill="#32cd32"/>
<rect x="764" y="113" width="1" height="61" fill="#ff0000"/>
<rect x="762" y="120" width="5" height="46" fill="#ff0000"/>
<rect x="763" y="121" width="3" height="44" fill="#ff4500"/>
<rect x="772" y="89" width="1" height="37" fill="#ff0000"/>
<rect x="770" y="89" width="5" height="32" fill="#ff0000"/>
<rect x="771" y="90" width="3" height="30" fill="#ff4500"/>
<rect x="780" y="53" width="1" height="57" fill="#32cd32"/>
<rect x="778" y="90" width="5" height="16" fill="#32cd32"/>
<rect x="788" y="94" width="1" height="50" fill="#32cd32"/>
<rect x="786" y="105" width="5" height="30" fill="#32cd32"/>
<rect x="796" y="81" width="1" height="56" fill="#ff0000"/>
<rect x="794" y="83" width="5" height="53" fill="#ff0000"/>
<rect x="795" y="84" width="3" height="51" fill="#ff4500"/>
<rect x="804" y="71" width="1" height="9" fill="#ff0000"/>
<rect x="802" y="73" width="5" height="7" fill="#ff0000"/>
<rect x="803" y="74" width="3" height="5" fill="#ff4500"/>
<rect x="812" y="39" width="1" height="40" fill="#ff0000"/>
<rect x="810" y="53" width="5" height="21" fill="#ff0000"/>
<rect x="811" y="54" width="3" height="19" fill="#ff4500"/>
<rect x="820" y="49" width="1" height="18" fill="#32cd32"/>
<rect x="818" y="54" width="5" height="7" fill="#32cd32"/>
<rect x="828" y="60" width="1" height="49" fill="#32cd32"/>
<rect x="826" y="61" width="5" height="37" fill="#32cd32"/>
<rect x="836" y="97" width="1" height="29" fill="#32cd32"/>
<rect x="834" y="97" width="5" height="14" fill="#32cd32"/>
<rect x="844" y="106" width="1" height="27" fill="#32cd32"/>
<rect x="842" y="110" width="5" height="9" fill="#32cd32"/>
<rect x="852" y="115" width="1" height="4" fill="#ff0000"/>
<rect x="850" y="116" width="5" height="2" fill="#ff0000"/>
<rect x="860" y="100" width="1" height="36" fill="#32cd32"/>
<rect x="858" y="116" width="5" height="15" fill="#32cd32"/>
<rect x="868" y="108" width="1" height="27" fill="#ff0000"/>
<rect x="866" y="116" width="5" height="15" fill="#ff0000"/>
<rect x="867" y="117" width="3" height="13" fill="#ff4500"/>
<rect x="876" y="106" width="1" height="28" fill="#32cd32"/>
<rect x="874" y="116" width="5" height="18" fill="#32cd32"/>
<rect x="884" y="118" width="1" height="41" fill="#32cd32"/>
<rect x="882" y="133" width="5" height="21" fill="#32cd32"/>
<rect x="892" y="150" width="1" height="68" fill="#32cd32"/>
<rect x="890" y="153" width="5" height="55" fill="#32cd32"/>
<rect x="900" y="197" width="1" height="17" fill="#ff0000"/>
<rect x="898" y="197" width="5" height="16" fill="#ff0000"/>
<rect x="899" y="198" width="3" height="14" fill="#ff4500"/>
<rect x="908" y="135" width="1" height="71" fill="#ff0000"/>
<rect x="906" y="149" width="5" height="50" fill="#ff0000"/>
<rect x="907" y="150" width="3" height="48" fill="#ff4500"/>
<rect x="916" y="142" width="1" height="52" fill="#32cd32"/>
<rect x="914" y="149" width="5" height="25" fill="#32cd32"/>
</g>
<g shape-rendering="crispEdges" fill="#000">
<rect x="1167" y="33" width="2" height="1"/>
<rect x="1167" y="66" width="2" height="1"/>
<rect x="1167" y="99" width="2" height="1"/>
<rect x="1167" y="132" width="2" height="1"/>
<rect x="1167" y="165" width="2" height="1"/>
<rect x="1167" y="198" width="2" height="1"/>
<rect x="1167" y="231" width="2" height="1"/>
<rect x="1167" y="264" width="2" height="1"/>
<rect x="1167" y="297" width="2" height="1"/>
<rect x="1167" y="330" width="2" height="1"/>
<rect x="1167" y="363" width="2" height="1"/>
<rect x="1167" y="396" width="2" height="1"/>
</g>
<text x="1172.2" y="36.9" class="b" font-size="10" fill="#000" textLength="32.8" lengthAdjust="spacingAndGlyphs">1.29750</text>
<text x="1172.2" y="69.9" class="b" font-size="10" fill="#000" textLength="32.8" lengthAdjust="spacingAndGlyphs">1.29105</text>
<text x="1172.2" y="102.9" class="b" font-size="10" fill="#000" textLength="32.8" lengthAdjust="spacingAndGlyphs">1.28475</text>
<text x="1172.2" y="135.9" class="b" font-size="10" fill="#000" textLength="32.8" lengthAdjust="spacingAndGlyphs">1.27830</text>
<text x="1172.2" y="168.9" class="b" font-size="10" fill="#000" textLength="32.8" lengthAdjust="spacingAndGlyphs">1.27200</text>
<text x="1172.2" y="201.9" class="b" font-size="10" fill="#000" textLength="32.8" lengthAdjust="spacingAndGlyphs">1.26570</text>
<text x="1172.2" y="234.9" class="b" font-size="10" fill="#000" textLength="32.8" lengthAdjust="spacingAndGlyphs">1.25925</text>
<text x="1172.2" y="267.9" class="b" font-size="10" fill="#000" textLength="32.8" lengthAdjust="spacingAndGlyphs">1.25295</text>
<text x="1172.2" y="300.9" class="b" font-size="10" fill="#000" textLength="32.8" lengthAdjust="spacingAndGlyphs">1.24650</text>
<text x="1172.2" y="333.9" class="b" font-size="10" fill="#000" textLength="32.8" lengthAdjust="spacingAndGlyphs">1.24020</text>
<text x="1172.2" y="366.9" class="b" font-size="10" fill="#000" textLength="32.8" lengthAdjust="spacingAndGlyphs">1.23375</text>
<text x="1172.2" y="399.9" class="b" font-size="10" fill="#000" textLength="32.8" lengthAdjust="spacingAndGlyphs">1.22745</text>
<g shape-rendering="crispEdges">
<rect x="1168" y="74" width="40" height="11" fill="#ff0000"/>
<rect x="1168" y="143" width="40" height="11" fill="#00ff00"/>
<rect x="1168" y="168" width="40" height="11" fill="#000000"/>
<rect x="1168" y="211" width="40" height="11" fill="#0000ff"/>
<rect x="1168" y="274" width="40" height="11" fill="#0000ff"/>
<rect x="1168" y="335" width="40" height="11" fill="#0000ff"/>
</g>
<text x="1172.2" y="83.2" class="w" font-size="10" fill="#fff" textLength="32.8" lengthAdjust="spacingAndGlyphs">1.28851</text>
<text x="1172.2" y="152.2" class="w" font-size="10" fill="#fff" textLength="32.8" lengthAdjust="spacingAndGlyphs">1.27515</text>
<text x="1172.2" y="177.2" class="w" font-size="10" fill="#fff" textLength="32.8" lengthAdjust="spacingAndGlyphs">1.27042</text>
<text x="1172.2" y="220.2" class="w" font-size="10" fill="#fff" textLength="32.8" lengthAdjust="spacingAndGlyphs">1.26199</text>
<text x="1172.2" y="283.2" class="w" font-size="10" fill="#fff" textLength="32.8" lengthAdjust="spacingAndGlyphs">1.24995</text>
<text x="1172.2" y="344.2" class="w" font-size="10" fill="#fff" textLength="32.8" lengthAdjust="spacingAndGlyphs">1.23810</text>
<path d="M7 27.5 L14.5 27.5 L10.75 31.5 Z" fill="#000"/>
<text x="19" y="32.3" class="b" font-size="10" fill="#000" textLength="68.5" lengthAdjust="spacingAndGlyphs">USDCAD-,Daily</text>
<text x="94.4" y="32.3" class="b" font-size="10" fill="#000" textLength="32.3" lengthAdjust="spacingAndGlyphs">1.27508</text>
<text x="130.4" y="32.3" class="b" font-size="10" fill="#000" textLength="32.3" lengthAdjust="spacingAndGlyphs">1.27649</text>
<text x="166.4" y="32.3" class="b" font-size="10" fill="#000" textLength="32.3" lengthAdjust="spacingAndGlyphs">1.26662</text>
<text x="202.4" y="32.3" class="b" font-size="10" fill="#000" textLength="32.3" lengthAdjust="spacingAndGlyphs">1.27042</text>
<g shape-rendering="crispEdges" fill="#c0c0c0">
<rect x="4" y="417" width="2" height="20"/>
<rect x="11" y="420" width="3" height="17"/>
<rect x="19" y="420" width="3" height="17"/>
<rect x="27" y="423" width="3" height="14"/>
<rect x="35" y="425" width="3" height="12"/>
<rect x="43" y="427" width="3" height="10"/>
<rect x="51" y="428" width="3" height="9"/>
<rect x="59" y="430" width="3" height="7"/>
<rect x="67" y="432" width="3" height="5"/>
<rect x="75" y="434" width="3" height="3"/>
<rect x="83" y="437" width="3" height="2"/>
<rect x="91" y="437" width="3" height="3"/>
<rect x="99" y="437" width="3" height="1"/>
<rect x="107" y="434" width="3" height="3"/>
<rect x="115" y="432" width="3" height="5"/>
<rect x="123" y="432" width="3" height="5"/>
<rect x="131" y="432" width="3" height="5"/>
<rect x="139" y="431" width="3" height="6"/>
<rect x="147" y="429" width="3" height="8"/>
<rect x="155" y="431" width="3" height="6"/>
<rect x="163" y="430" width="3" height="7"/>
<rect x="171" y="427" width="3" height="10"/>
<rect x="179" y="425" width="3" height="12"/>
<rect x="187" y="422" width="3" height="15"/>
<rect x="195" y="420" width="3" height="17"/>
<rect x="203" y="419" width="3" height="18"/>
<rect x="211" y="422" width="3" height="15"/>
<rect x="219" y="425" width="3" height="12"/>
<rect x="227" y="427" width="3" height="10"/>
<rect x="235" y="430" width="3" height="7"/>
<rect x="243" y="431" width="3" height="6"/>
<rect x="251" y="430" width="3" height="7"/>
<rect x="259" y="430" width="3" height="7"/>
<rect x="267" y="433" width="3" height="4"/>
<rect x="275" y="435" width="3" height="2"/>
<rect x="283" y="437" width="3" height="1"/>
<rect x="291" y="437" width="3" height="4"/>
<rect x="299" y="437" width="3" height="5"/>
<rect x="307" y="437" width="3" height="8"/>
<rect x="315" y="437" width="3" height="12"/>
<rect x="323" y="437" width="3" height="15"/>
<rect x="331" y="437" width="3" height="17"/>
<rect x="339" y="437" width="3" height="18"/>
<rect x="347" y="437" width="3" height="20"/>
<rect x="355" y="437" width="3" height="23"/>
<rect x="363" y="437" width="3" height="26"/>
<rect x="371" y="437" width="3" height="27"/>
<rect x="379" y="437" width="3" height="28"/>
<rect x="387" y="437" width="3" height="29"/>
<rect x="395" y="437" width="3" height="30"/>
<rect x="403" y="437" width="3" height="30"/>
<rect x="411" y="437" width="3" height="29"/>
<rect x="419" y="437" width="3" height="27"/>
<rect x="427" y="437" width="3" height="26"/>
<rect x="435" y="437" width="3" height="25"/>
<rect x="443" y="437" width="3" height="24"/>
<rect x="451" y="437" width="3" height="23"/>
<rect x="459" y="437" width="3" height="22"/>
<rect x="467" y="437" width="3" height="21"/>
<rect x="475" y="437" width="3" height="20"/>
<rect x="483" y="437" width="3" height="17"/>
<rect x="491" y="437" width="3" height="16"/>
<rect x="499" y="437" width="3" height="13"/>
<rect x="507" y="437" width="3" height="11"/>
<rect x="515" y="437" width="3" height="9"/>
<rect x="523" y="437" width="3" height="7"/>
<rect x="531" y="437" width="3" height="6"/>
<rect x="539" y="437" width="3" height="4"/>
<rect x="547" y="434" width="3" height="3"/>
<rect x="555" y="432" width="3" height="5"/>
<rect x="563" y="430" width="3" height="7"/>
<rect x="571" y="430" width="3" height="7"/>
<rect x="579" y="428" width="3" height="9"/>
<rect x="587" y="425" width="3" height="12"/>
<rect x="595" y="424" width="3" height="13"/>
<rect x="603" y="421" width="3" height="16"/>
<rect x="611" y="419" width="3" height="18"/>
<rect x="619" y="416" width="3" height="21"/>
<rect x="627" y="415" width="3" height="22"/>
<rect x="635" y="415" width="3" height="22"/>
<rect x="643" y="415" width="3" height="22"/>
<rect x="651" y="412" width="3" height="25"/>
<rect x="659" y="411" width="3" height="26"/>
<rect x="667" y="411" width="3" height="26"/>
<rect x="675" y="410" width="3" height="27"/>
<rect x="683" y="408" width="3" height="29"/>
<rect x="691" y="407" width="3" height="30"/>
<rect x="699" y="406" width="3" height="31"/>
<rect x="707" y="406" width="3" height="31"/>
<rect x="715" y="408" width="3" height="29"/>
<rect x="723" y="413" width="3" height="24"/>
<rect x="731" y="417" width="3" height="20"/>
<rect x="739" y="419" width="3" height="18"/>
<rect x="747" y="420" width="3" height="17"/>
<rect x="755" y="421" width="3" height="16"/>
<rect x="763" y="420" width="3" height="17"/>
<rect x="771" y="416" width="3" height="21"/>
<rect x="779" y="417" width="3" height="20"/>
<rect x="787" y="419" width="3" height="18"/>
<rect x="795" y="416" width="3" height="21"/>
<rect x="803" y="414" width="3" height="23"/>
<rect x="811" y="412" width="3" height="25"/>
<rect x="819" y="411" width="3" height="26"/>
<rect x="827" y="412" width="3" height="25"/>
<rect x="835" y="415" width="3" height="22"/>
<rect x="843" y="417" width="3" height="20"/>
<rect x="851" y="419" width="3" height="18"/>
<rect x="859" y="422" width="3" height="15"/>
<rect x="867" y="423" width="3" height="14"/>
<rect x="875" y="425" width="3" height="12"/>
<rect x="883" y="428" width="3" height="9"/>
<rect x="891" y="433" width="3" height="4"/>
<rect x="899" y="437" width="3" height="2"/>
<rect x="907" y="437" width="3" height="2"/>
<rect x="915" y="437" width="3" height="3"/>
</g>
<path d="M705 409h33v1h-33zM696 410h9v1h-9zM738 410h7v1h-7zM688 411h8v1h-8zM745 411h6v1h-6zM682 412h6v1h-6zM751 412h5v1h-5zM677 413h5v1h-5zM756 413h5v1h-5zM672 414h5v1h-5zM761 414h5v1h-5zM666 415h6v1h-6zM766 415h5v1h-5zM824 415h44v1h-44zM658 416h8v1h-8zM771 416h5v1h-5zM816 416h8v1h-8zM868 416h6v1h-6zM653 417h5v1h-5zM776 417h8v1h-8zM810 417h6v1h-6zM874 417h4v1h-4zM20 418h21v1h-21zM649 418h4v1h-4zM784 418h26v1h-26zM878 418h4v1h-4zM12 419h8v1h-8zM41 419h6v1h-6zM645 419h4v1h-4zM882 419h3v1h-3zM8 420h4v1h-4zM47 420h6v1h-6zM641 420h4v1h-4zM885 420h3v1h-3zM5 421h3v1h-3zM53 421h6v1h-6zM637 421h4v1h-4zM888 421h2v1h-2zM59 422h5v1h-5zM632 422h5v1h-5zM890 422h3v1h-3zM64 423h3v1h-3zM627 423h5v1h-5zM893 423h3v1h-3zM67 424h3v1h-3zM218 424h26v1h-26zM622 424h5v1h-5zM896 424h3v1h-3zM70 425h3v1h-3zM208 425h10v1h-10zM244 425h11v1h-11zM617 425h5v1h-5zM899 425h3v1h-3zM73 426h4v1h-4zM202 426h6v1h-6zM255 426h8v1h-8zM612 426h5v1h-5zM902 426h3v1h-3zM77 427h4v1h-4zM196 427h6v1h-6zM263 427h4v1h-4zM608 427h4v1h-4zM905 427h3v1h-3zM81 428h4v1h-4zM190 428h6v1h-6zM267 428h4v1h-4zM605 428h3v1h-3zM908 428h4v1h-4zM85 429h4v1h-4zM183 429h7v1h-7zM271 429h6v1h-6zM602 429h3v1h-3zM912 429h3v1h-3zM89 430h4v1h-4zM177 430h6v1h-6zM277 430h6v1h-6zM599 430h3v1h-3zM915 430h2v1h-2zM93 431h4v1h-4zM171 431h6v1h-6zM283 431h5v1h-5zM596 431h3v1h-3zM97 432h6v1h-6zM165 432h6v1h-6zM288 432h5v1h-5zM594 432h2v1h-2zM103 433h6v1h-6zM156 433h9v1h-9zM293 433h4v1h-4zM592 433h2v1h-2zM109 434h47v1h-47zM297 434h4v1h-4zM589 434h3v1h-3zM301 435h4v1h-4zM585 435h4v1h-4zM305 436h4v1h-4zM581 436h4v1h-4zM309 437h4v1h-4zM576 437h5v1h-5zM313 438h4v1h-4zM572 438h4v1h-4zM317 439h4v1h-4zM568 439h4v1h-4zM321 440h4v1h-4zM564 440h4v1h-4zM325 441h4v1h-4zM560 441h4v1h-4zM329 442h3v1h-3zM556 442h4v1h-4zM332 443h3v1h-3zM552 443h4v1h-4zM335 444h3v1h-3zM548 444h4v1h-4zM338 445h3v1h-3zM544 445h4v1h-4zM341 446h4v1h-4zM540 446h4v1h-4zM345 447h4v1h-4zM537 447h3v1h-3zM349 448h4v1h-4zM533 448h4v1h-4zM353 449h3v1h-3zM529 449h4v1h-4zM356 450h4v1h-4zM525 450h4v1h-4zM360 451h4v1h-4zM522 451h3v1h-3zM364 452h4v1h-4zM518 452h4v1h-4zM368 453h3v1h-3zM514 453h4v1h-4zM371 454h3v1h-3zM510 454h4v1h-4zM374 455h3v1h-3zM505 455h5v1h-5zM377 456h3v1h-3zM497 456h8v1h-8zM380 457h3v1h-3zM490 457h7v1h-7zM383 458h4v1h-4zM482 458h8v1h-8zM387 459h5v1h-5zM476 459h6v1h-6zM392 460h5v1h-5zM471 460h5v1h-5zM397 461h5v1h-5zM466 461h5v1h-5zM402 462h5v1h-5zM459 462h7v1h-7zM407 463h8v1h-8zM451 463h8v1h-8zM415 464h36v1h-36z" fill="#ff0000" shape-rendering="crispEdges"/>
<text x="8.2" y="414.3" class="b" font-size="10" fill="#000" textLength="150.5" lengthAdjust="spacingAndGlyphs">MACD(12,26,9) -0.000712 0.001955</text>
<g shape-rendering="crispEdges" fill="#000">
<rect x="1167" y="403" width="1" height="1"/>
<rect x="1167" y="437" width="1" height="1"/>
<rect x="1167" y="469" width="1" height="1"/>
</g>
<text x="1170.2" y="412" class="b" font-size="10" fill="#000" textLength="37.5" lengthAdjust="spacingAndGlyphs">0.009345</text>
<text x="1170.2" y="441" class="b" font-size="10" fill="#000" textLength="17.4" lengthAdjust="spacingAndGlyphs">0.00</text>
<text x="1170.2" y="467.3" class="b" font-size="10" fill="#000" textLength="40.5" lengthAdjust="spacingAndGlyphs">-0.008902</text>
<g shape-rendering="crispEdges">
<line x1="4" y1="494.5" x2="1166" y2="494.5" stroke="#c0c0c0" stroke-width="1" stroke-dasharray="3,3" stroke-dashoffset="-1"/>
<line x1="4" y1="522.5" x2="1166" y2="522.5" stroke="#c0c0c0" stroke-width="1" stroke-dasharray="3,3" stroke-dashoffset="-1"/>
</g>
<path d="M652 492h1v1h-1zM651 493h1v1h-1zM653 493h2v1h-2zM685 493h21v1h-21zM604 494h3v1h-3zM619 494h4v1h-4zM649 494h2v1h-2zM655 494h1v1h-1zM677 494h8v1h-8zM706 494h4v1h-4zM602 495h2v1h-2zM607 495h4v1h-4zM615 495h4v1h-4zM623 495h2v1h-2zM648 495h1v1h-1zM656 495h1v1h-1zM672 495h5v1h-5zM710 495h1v1h-1zM548 496h2v1h-2zM600 496h2v1h-2zM611 496h4v1h-4zM625 496h2v1h-2zM647 496h1v1h-1zM657 496h2v1h-2zM667 496h5v1h-5zM711 496h1v1h-1zM546 497h2v1h-2zM550 497h2v1h-2zM598 497h2v1h-2zM627 497h5v1h-5zM645 497h2v1h-2zM659 497h1v1h-1zM663 497h4v1h-4zM712 497h1v1h-1zM771 497h3v1h-3zM809 497h8v1h-8zM193 498h5v1h-5zM545 498h1v1h-1zM552 498h2v1h-2zM586 498h12v1h-12zM632 498h13v1h-13zM660 498h3v1h-3zM713 498h1v1h-1zM769 498h2v1h-2zM774 498h4v1h-4zM801 498h8v1h-8zM817 498h4v1h-4zM187 499h6v1h-6zM198 499h2v1h-2zM543 499h2v1h-2zM554 499h2v1h-2zM582 499h4v1h-4zM714 499h1v1h-1zM767 499h2v1h-2zM778 499h2v1h-2zM796 499h5v1h-5zM821 499h2v1h-2zM183 500h4v1h-4zM200 500h2v1h-2zM541 500h2v1h-2zM556 500h5v1h-5zM579 500h3v1h-3zM715 500h1v1h-1zM765 500h2v1h-2zM780 500h2v1h-2zM794 500h2v1h-2zM823 500h2v1h-2zM177 501h6v1h-6zM202 501h2v1h-2zM540 501h1v1h-1zM561 501h5v1h-5zM577 501h2v1h-2zM716 501h1v1h-1zM763 501h2v1h-2zM782 501h2v1h-2zM793 501h1v1h-1zM825 501h1v1h-1zM171 502h6v1h-6zM204 502h1v1h-1zM539 502h1v1h-1zM566 502h2v1h-2zM575 502h2v1h-2zM717 502h1v1h-1zM761 502h2v1h-2zM784 502h2v1h-2zM791 502h2v1h-2zM826 502h2v1h-2zM105 503h6v1h-6zM168 503h3v1h-3zM205 503h1v1h-1zM252 503h1v1h-1zM538 503h1v1h-1zM568 503h2v1h-2zM573 503h2v1h-2zM718 503h1v1h-1zM759 503h2v1h-2zM786 503h2v1h-2zM789 503h2v1h-2zM828 503h3v1h-3zM21 504h1v1h-1zM100 504h5v1h-5zM111 504h4v1h-4zM129 504h5v1h-5zM147 504h2v1h-2zM165 504h3v1h-3zM206 504h1v1h-1zM250 504h2v1h-2zM253 504h2v1h-2zM537 504h1v1h-1zM570 504h3v1h-3zM719 504h1v1h-1zM747 504h6v1h-6zM757 504h2v1h-2zM788 504h1v1h-1zM831 504h5v1h-5zM19 505h2v1h-2zM22 505h2v1h-2zM99 505h1v1h-1zM115 505h14v1h-14zM134 505h4v1h-4zM143 505h4v1h-4zM149 505h2v1h-2zM163 505h2v1h-2zM207 505h2v1h-2zM248 505h2v1h-2zM255 505h1v1h-1zM535 505h2v1h-2zM720 505h1v1h-1zM743 505h4v1h-4zM753 505h4v1h-4zM836 505h10v1h-10zM17 506h2v1h-2zM24 506h2v1h-2zM98 506h1v1h-1zM138 506h5v1h-5zM151 506h2v1h-2zM161 506h2v1h-2zM209 506h1v1h-1zM246 506h2v1h-2zM256 506h1v1h-1zM504 506h8v1h-8zM534 506h1v1h-1zM721 506h1v1h-1zM739 506h4v1h-4zM846 506h9v1h-9zM867 506h3v1h-3zM15 507h2v1h-2zM26 507h2v1h-2zM97 507h1v1h-1zM153 507h1v1h-1zM159 507h2v1h-2zM210 507h1v1h-1zM243 507h3v1h-3zM257 507h2v1h-2zM499 507h5v1h-5zM512 507h6v1h-6zM533 507h1v1h-1zM722 507h1v1h-1zM737 507h2v1h-2zM855 507h4v1h-4zM863 507h4v1h-4zM870 507h2v1h-2zM13 508h2v1h-2zM28 508h34v1h-34zM95 508h2v1h-2zM154 508h2v1h-2zM157 508h2v1h-2zM211 508h1v1h-1zM241 508h2v1h-2zM259 508h2v1h-2zM498 508h1v1h-1zM518 508h8v1h-8zM532 508h1v1h-1zM723 508h1v1h-1zM734 508h3v1h-3zM859 508h4v1h-4zM872 508h2v1h-2zM4 509h9v1h-9zM62 509h2v1h-2zM94 509h1v1h-1zM156 509h1v1h-1zM212 509h14v1h-14zM239 509h2v1h-2zM261 509h3v1h-3zM497 509h1v1h-1zM526 509h6v1h-6zM724 509h1v1h-1zM729 509h5v1h-5zM874 509h4v1h-4zM909 509h2v1h-2zM64 510h2v1h-2zM93 510h1v1h-1zM226 510h6v1h-6zM237 510h2v1h-2zM264 510h3v1h-3zM496 510h1v1h-1zM725 510h4v1h-4zM878 510h4v1h-4zM908 510h1v1h-1zM911 510h2v1h-2zM66 511h2v1h-2zM92 511h1v1h-1zM232 511h5v1h-5zM267 511h13v1h-13zM495 511h1v1h-1zM882 511h3v1h-3zM906 511h2v1h-2zM913 511h2v1h-2zM68 512h4v1h-4zM88 512h4v1h-4zM280 512h3v1h-3zM483 512h2v1h-2zM494 512h1v1h-1zM885 512h2v1h-2zM905 512h1v1h-1zM915 512h2v1h-2zM72 513h4v1h-4zM81 513h7v1h-7zM283 513h6v1h-6zM297 513h5v1h-5zM481 513h2v1h-2zM485 513h3v1h-3zM493 513h1v1h-1zM887 513h1v1h-1zM904 513h1v1h-1zM76 514h5v1h-5zM289 514h8v1h-8zM302 514h4v1h-4zM479 514h2v1h-2zM488 514h2v1h-2zM492 514h1v1h-1zM888 514h2v1h-2zM902 514h2v1h-2zM306 515h3v1h-3zM464 515h8v1h-8zM477 515h2v1h-2zM490 515h2v1h-2zM890 515h1v1h-1zM901 515h1v1h-1zM309 516h2v1h-2zM434 516h7v1h-7zM459 516h5v1h-5zM472 516h5v1h-5zM891 516h2v1h-2zM897 516h4v1h-4zM311 517h2v1h-2zM429 517h5v1h-5zM441 517h5v1h-5zM457 517h2v1h-2zM893 517h4v1h-4zM313 518h2v1h-2zM322 518h22v1h-22zM424 518h5v1h-5zM446 518h2v1h-2zM455 518h2v1h-2zM315 519h2v1h-2zM319 519h3v1h-3zM344 519h4v1h-4zM418 519h6v1h-6zM448 519h2v1h-2zM453 519h2v1h-2zM317 520h2v1h-2zM348 520h3v1h-3zM404 520h14v1h-14zM450 520h3v1h-3zM351 521h3v1h-3zM402 521h2v1h-2zM354 522h2v1h-2zM361 522h7v1h-7zM400 522h2v1h-2zM356 523h5v1h-5zM368 523h19v1h-19zM398 523h2v1h-2zM387 524h6v1h-6zM396 524h2v1h-2zM393 525h3v1h-3z" fill="#1e90ff" shape-rendering="crispEdges"/>
<text x="8.2" y="485.2" class="b" font-size="10" fill="#000" textLength="67.5" lengthAdjust="spacingAndGlyphs">RSI(14) 45.3000</text>
<g shape-rendering="crispEdges" fill="#000">
<rect x="1167" y="474" width="1" height="1"/>
<rect x="1167" y="494" width="1" height="1"/>
<rect x="1167" y="522" width="1" height="1"/>
<rect x="1167" y="543" width="1" height="1"/>
</g>
<text x="1170.3" y="483" class="b" font-size="10" fill="#000" textLength="14.3" lengthAdjust="spacingAndGlyphs">100</text>
<text x="1170.3" y="498" class="b" font-size="10" fill="#000" textLength="8.6" lengthAdjust="spacingAndGlyphs">70</text>
<text x="1170.3" y="526" class="b" font-size="10" fill="#000" textLength="8.6" lengthAdjust="spacingAndGlyphs">30</text>
<text x="1170.3" y="541" class="b" font-size="10" fill="#000" textLength="4.6" lengthAdjust="spacingAndGlyphs">0</text>
<g shape-rendering="crispEdges" fill="#000">
<rect x="4" y="545" width="1" height="3"/>
<rect x="68" y="545" width="1" height="3"/>
<rect x="132" y="545" width="1" height="3"/>
<rect x="196" y="545" width="1" height="3"/>
<rect x="260" y="545" width="1" height="3"/>
<rect x="324" y="545" width="1" height="3"/>
<rect x="388" y="545" width="1" height="3"/>
<rect x="452" y="545" width="1" height="3"/>
<rect x="516" y="545" width="1" height="3"/>
<rect x="580" y="545" width="1" height="3"/>
<rect x="644" y="545" width="1" height="3"/>
<rect x="708" y="545" width="1" height="3"/>
<rect x="772" y="545" width="1" height="3"/>
<rect x="836" y="545" width="1" height="3"/>
<rect x="900" y="545" width="1" height="3"/>
</g>
<text x="3.3" y="557" class="b" font-size="10" fill="#000" textLength="52" lengthAdjust="spacingAndGlyphs">24 Aug 2021</text>
<text x="67.3" y="557" class="b" font-size="10" fill="#000" textLength="46.4" lengthAdjust="spacingAndGlyphs">2 Sep 2021</text>
<text x="131.3" y="557" class="b" font-size="10" fill="#000" textLength="51.2" lengthAdjust="spacingAndGlyphs">12 Sep 2021</text>
<text x="195.3" y="557" class="b" font-size="10" fill="#000" textLength="51.2" lengthAdjust="spacingAndGlyphs">21 Sep 2021</text>
<text x="259.3" y="557" class="b" font-size="10" fill="#000" textLength="51.2" lengthAdjust="spacingAndGlyphs">30 Sep 2021</text>
<text x="323.3" y="557" class="b" font-size="10" fill="#000" textLength="49" lengthAdjust="spacingAndGlyphs">10 Oct 2021</text>
<text x="387.3" y="557" class="b" font-size="10" fill="#000" textLength="49" lengthAdjust="spacingAndGlyphs">19 Oct 2021</text>
<text x="451.3" y="557" class="b" font-size="10" fill="#000" textLength="49.5" lengthAdjust="spacingAndGlyphs">28 Oct 2021</text>
<text x="515.3" y="557" class="b" font-size="10" fill="#000" textLength="48" lengthAdjust="spacingAndGlyphs">7 Nov 2021</text>
<text x="579.3" y="557" class="b" font-size="10" fill="#000" textLength="52" lengthAdjust="spacingAndGlyphs">16 Nov 2021</text>
<text x="643.3" y="557" class="b" font-size="10" fill="#000" textLength="51.7" lengthAdjust="spacingAndGlyphs">25 Nov 2021</text>
<text x="707.3" y="557" class="b" font-size="10" fill="#000" textLength="45.6" lengthAdjust="spacingAndGlyphs">5 Dec 2021</text>
<text x="771.3" y="557" class="b" font-size="10" fill="#000" textLength="50.6" lengthAdjust="spacingAndGlyphs">14 Dec 2021</text>
<text x="835.3" y="557" class="b" font-size="10" fill="#000" textLength="50.6" lengthAdjust="spacingAndGlyphs">23 Dec 2021</text>
<text x="899.3" y="557" class="b" font-size="10" fill="#000" textLength="44.6" lengthAdjust="spacingAndGlyphs">2 Jan 2022</text>
<g shape-rendering="crispEdges">
<rect x="0" y="565" width="1208" height="1" fill="#e4e4e4"/>
<rect x="0" y="567" width="1208" height="21" fill="#f0f0f0"/>
<rect x="0" y="567" width="1208" height="1" fill="#000"/>
<rect x="0" y="587" width="1208" height="1" fill="#f8f8f8"/>
<rect x="0" y="567" width="1" height="19" fill="#404040"/>
<rect x="1" y="568" width="1" height="18" fill="#fafafa"/>
<rect x="417" y="567" width="108" height="19" fill="#000"/>
<rect x="418" y="566" width="106" height="19" fill="#fff"/>
<rect x="418" y="565" width="106" height="1" fill="#e4e4e4"/>
<rect x="105" y="570" width="1" height="14" fill="#606060"/>
<rect x="213" y="570" width="1" height="14" fill="#606060"/>
<rect x="321" y="570" width="1" height="14" fill="#606060"/>
<rect x="637" y="570" width="1" height="14" fill="#606060"/>
<rect x="745" y="570" width="1" height="14" fill="#606060"/>
<rect x="825" y="570" width="1" height="14" fill="#606060"/>
<rect x="913" y="570" width="1" height="14" fill="#606060"/>
<rect x="997" y="570" width="1" height="14" fill="#606060"/>
</g>
<text x="16" y="581.8" font-size="12.6" fill="#707070" textLength="78" lengthAdjust="spacingAndGlyphs">USDX,Weekly</text>
<text x="116" y="581.8" font-size="12.6" fill="#707070" textLength="85" lengthAdjust="spacingAndGlyphs">EURUSD-,Daily</text>
<text x="223" y="581.8" font-size="12.6" fill="#707070" textLength="87" lengthAdjust="spacingAndGlyphs">AUDUSD-,Daily</text>
<text x="334" y="581.8" font-size="12.6" fill="#707070" textLength="71" lengthAdjust="spacingAndGlyphs">USDCHF-,H4</text>
<text x="428" y="581.8" font-size="12.6" fill="#000" textLength="86" lengthAdjust="spacingAndGlyphs">USDCAD-,Daily</text>
<text x="537" y="581.8" font-size="12.6" fill="#707070" textLength="88" lengthAdjust="spacingAndGlyphs">USDCNH-,Daily</text>
<text x="648" y="581.8" font-size="12.6" fill="#707070" textLength="86" lengthAdjust="spacingAndGlyphs">XAUUSD-,Daily</text>
<text x="756" y="581.8" font-size="12.6" fill="#707070" textLength="57" lengthAdjust="spacingAndGlyphs">UKOil-,H4</text>
<text x="837" y="581.8" font-size="12.6" fill="#707070" textLength="63" lengthAdjust="spacingAndGlyphs">DJ30-,Daily</text>
<text x="924" y="581.8" font-size="12.6" fill="#707070" textLength="62" lengthAdjust="spacingAndGlyphs">UK100-,H1</text>
<path d="M1185 573 L1185 579 L1182 576 Z" fill="#8c8c8c"/>
<path d="M1201 573 L1201 579 L1204 576 Z" fill="#8c8c8c"/>
</svg></body></html>
